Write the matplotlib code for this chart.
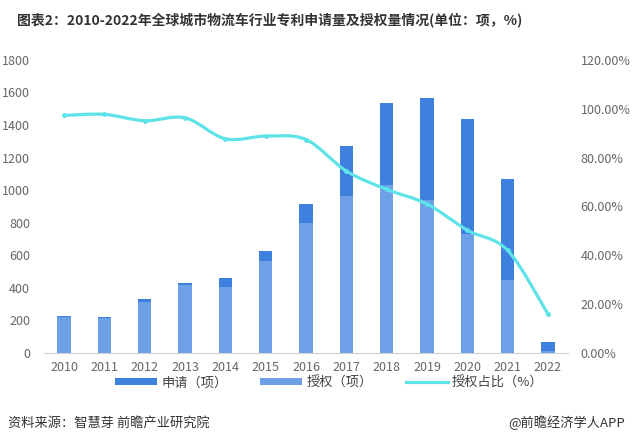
import matplotlib.pyplot as plt
from matplotlib.ticker import FuncFormatter
from matplotlib.path import Path
from matplotlib.patches import PathPatch
from matplotlib.lines import Line2D
import numpy as np

plt.rcParams['font.family'] = ['Noto Sans CJK SC', 'DejaVu Sans']

# Data
years = ["2010", "2011", "2012", "2013", "2014", "2015", "2016",
         "2017", "2018", "2019", "2020", "2021", "2022"]
applications = [226, 220, 332, 431, 461, 628, 917, 1274, 1538, 1569, 1440, 1071, 68]
grants = [222, 217, 316, 415, 408, 562, 800, 962, 1034, 942, 728, 451, 11]
grant_ratio = [97.3, 97.7, 95.1, 96.3, 87.7, 88.8, 87.4, 74.5, 67.0, 61.0, 50.3, 42.0, 16.0]

color_app = "#3d80de"
color_grant = "#6ea0e8"
color_line = "#5de3e8"
tick_color = "#666666"

fig = plt.figure(figsize=(6.33, 4.44), dpi=100)
ax = fig.add_axes([0.0695, 0.205, 0.828, 0.66])
ax2 = ax.twinx()

x = np.arange(len(years))
ax.bar(x, applications, width=0.33, color=color_app, label="申请（项）", zorder=2)
ax.bar(x, grants, width=0.33, color=color_grant, label="授权（项）", zorder=3)

# smooth line through the ratio points (bezier segments, like the original chart)
pts = np.column_stack([x, grant_ratio]).astype(float)
verts = [pts[0]]
codes = [Path.MOVETO]
for i in range(len(pts) - 1):
    p0 = pts[max(i - 1, 0)]
    p1 = pts[i]
    p2 = pts[i + 1]
    p3 = pts[min(i + 2, len(pts) - 1)]
    verts += [p1 + (p2 - p0) / 6, p2 - (p3 - p1) / 6, p2]
    codes += [Path.CURVE4] * 3
ax2.add_patch(PathPatch(Path(verts, codes), facecolor="none", edgecolor=color_line,
                        linewidth=2.3, zorder=4))
ax2.plot(x, grant_ratio, linestyle="none", marker="o", markersize=2.5, color=color_line, zorder=5)

ax.set_xlim(-0.5, len(years) - 0.5)
ax.set_ylim(0, 1800)
ax.set_yticks(range(0, 1801, 200))
ax2.set_ylim(0, 120)
ax2.set_yticks(range(0, 121, 20))
ax2.yaxis.set_major_formatter(FuncFormatter(lambda v, p: "%.2f%%" % v))

ax.set_xticks(x)
ax.set_xticklabels(years)

for a in (ax, ax2):
    for s in a.spines.values():
        s.set_visible(False)
    a.tick_params(length=0, labelsize=9, colors=tick_color)
ax.spines["bottom"].set_visible(True)
ax.spines["bottom"].set_color("#d0d0d0")
ax.tick_params(axis="y", pad=10)
ax.tick_params(axis="x", pad=6)
ax2.tick_params(axis="y", pad=9)

# Legend
h1, l1 = ax.get_legend_handles_labels()
line_handle = Line2D([], [], color=color_line, linewidth=2.3)
fig.legend(h1 + [line_handle], l1 + ["授权占比（%）"], loc="center", bbox_to_anchor=(0.52, 0.138),
           ncol=3, frameon=False, fontsize=9.5, handlelength=3.2, handleheight=0.35,
           columnspacing=2.5, handletextpad=0.3, labelcolor="#444444")

fig.text(0.027, 0.955, "图表2：2010-2022年全球城市物流车行业专利申请量及授权量情况(单位：项，%)",
         fontsize=10, fontweight="bold", color="#333333", va="center")
fig.text(0.012, 0.047, "资料来源：智慧芽 前瞻产业研究院", fontsize=9.5, color="#333333", va="center")
fig.text(0.988, 0.047, "@前瞻经济学人APP", fontsize=9.5, color="#333333", va="center", ha="right")

fig.savefig("out.png", dpi=100)
